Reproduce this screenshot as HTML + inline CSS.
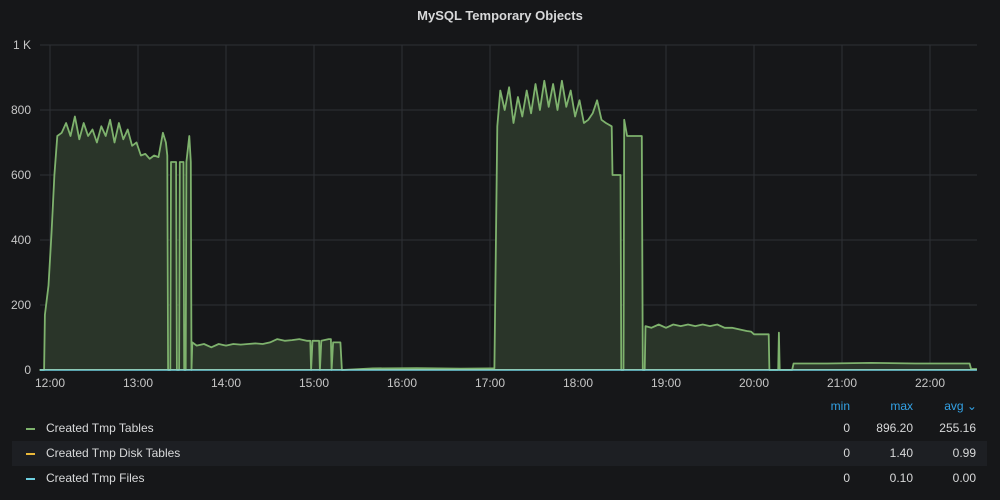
<!DOCTYPE html>
<html><head><meta charset="utf-8"><style>
body{margin:0;background:#161719;width:1000px;height:500px;overflow:hidden;font-family:"Liberation Sans",sans-serif;}
svg{position:absolute;left:0;top:0}
.leg{position:absolute;left:12px;width:975px;height:25px;font-size:12px;color:#d8d9da;line-height:25px}
.leg .sw{position:absolute;left:14px;top:12px;width:9px;height:2px}
.leg .nm{position:absolute;left:34px}
.leg .c{position:absolute;text-align:right}
</style></head><body>
<svg id="chart" width="1000" height="400"></svg>
<div class="leg" style="top:394px;color:#33a2e5">
 <span class="c" style="right:137px">min</span>
 <span class="c" style="right:74px">max</span>
 <span class="c" style="right:10px">avg ⌄</span>
</div>
<div class="leg" style="top:416px"><span class="sw" style="background:#7eb26d"></span><span class="nm">Created Tmp Tables</span><span class="c" style="right:137px">0</span><span class="c" style="right:74px">896.20</span><span class="c" style="right:11px">255.16</span></div>
<div class="leg" style="top:441px;background:#1d1f23"><span class="sw" style="background:#eab839"></span><span class="nm">Created Tmp Disk Tables</span><span class="c" style="right:137px">0</span><span class="c" style="right:74px">1.40</span><span class="c" style="right:11px">0.99</span></div>
<div class="leg" style="top:466px"><span class="sw" style="background:#6ed0e0"></span><span class="nm">Created Tmp Files</span><span class="c" style="right:137px">0</span><span class="c" style="right:74px">0.10</span><span class="c" style="right:11px">0.00</span></div>
<script>
const yTicks=[0,200,400,600,800,1000];
const yTickLabels=["0","200","400","600","800","1 K"];
const hourTicks=[0,1,2,3,4,5,6,7,8,9,10];
const hourLabels=["12:00","13:00","14:00","15:00","16:00","17:00","18:00","19:00","20:00","21:00","22:00"];
const tMin=[-7,-4,-3.5,-1,1,3,5,8,11,14,17,20,23,26,29,32,35,38,41,44,47,50,53,56,59,62,65,68,71,74,77,79,80,80.5,82,82.5,86,86.5,88,88.5,91,91.5,92.5,93,95,96,96.5,97,100,105,110,115,120,125,130,135,140,145,150,155,160,165,170,175,177.5,178,179,183,183.5,184,185,190,191.5,192,193,198,199,220,250,280,300,303,305,307,310,313,316,319,322,325,328,331,334,337,340,343,346,349,352,355,358,361,364,367,370,373,376,379,383,383.5,389,389.5,391,391.5,393.5,403.5,404.2,405.5,406,410,415,420,425,430,435,440,445,450,455,460,465,470,475,478,480,485,490,490.5,496.5,497,497.5,506,507,530,560,590,620,627,628,632];
const tablesVals=[0,0,170,260,420,600,720,730,760,720,780,710,760,720,740,700,750,720,770,700,760,710,740,690,700,660,665,650,660,655,730,700,660,0,0,640,640,0,0,640,640,0,0,640,720,640,0,85,75,80,70,80,75,80,78,80,82,80,85,95,90,92,95,90,90,0,90,90,90,0,90,95,95,0,85,85,0,5,6,4,5,5,750,860,800,870,760,840,780,860,790,880,800,890,810,880,800,890,810,860,780,830,760,770,790,830,770,760,750,600,600,0,0,770,720,720,0,0,135,130,140,130,140,135,140,135,140,135,140,130,130,125,120,118,110,110,110,0,0,115,0,0,20,20,22,20,20,20,3,3];
const diskVals=[1,1,1,1];const diskT=[-7,200,400,632];
const filesVals=[0,0];const filesT=[-7,632];
const L=40,R=977,T=45,B=370;
const x=m=>50+m*88/60, y=v=>B-(v/1000)*(B-T);
const NS="http://www.w3.org/2000/svg",svg=document.getElementById('chart');
function mk(t,a,p){const e=document.createElementNS(NS,t);for(const k in a)e.setAttribute(k,a[k]);(p||svg).appendChild(e);return e;}
const title=mk('text',{x:500,y:20,'text-anchor':'middle',fill:'#d8d9da','font-size':13,'font-weight':'bold'});


title.textContent='MySQL Temporary Objects';
yTicks.forEach((v,i)=>{const g=mk('line',{x1:L,x2:R,y1:y(v),y2:y(v),stroke:'#2e3035','stroke-width':1});


const t=mk('text',{x:31,y:y(v)+4,'text-anchor':'end',fill:'#c7c7c7','font-size':12});


t.textContent=yTickLabels[i];});
hourTicks.forEach((h,i)=>{const g=mk('line',{x1:x(h*60),x2:x(h*60),y1:T,y2:B,stroke:'#2e3035','stroke-width':1});


const t=mk('text',{x:x(h*60),y:387,'text-anchor':'middle',fill:'#c7c7c7','font-size':12});


t.textContent=hourLabels[i];});
function pts(ts,vs){return ts.map((t,i)=>x(t).toFixed(1)+','+y(vs[i]).toFixed(1)).join(' ');}
const area=mk('polygon',{points:x(tMin[0])+','+B+' '+pts(tMin,tablesVals)+' '+x(tMin[tMin.length-1])+','+B,fill:'#2a3529'});


const ln=mk('polyline',{points:pts(tMin,tablesVals),fill:'none',stroke:'#7eb26d','stroke-width':1.8,'stroke-linejoin':'round'});


const dl=mk('polyline',{points:pts(diskT,diskVals),fill:'none',stroke:'#eab839','stroke-width':1.5});


const fl=mk('polyline',{points:pts(filesT,filesVals),fill:'none',stroke:'#6ed0e0','stroke-width':1.5});


</script>
</body></html>
